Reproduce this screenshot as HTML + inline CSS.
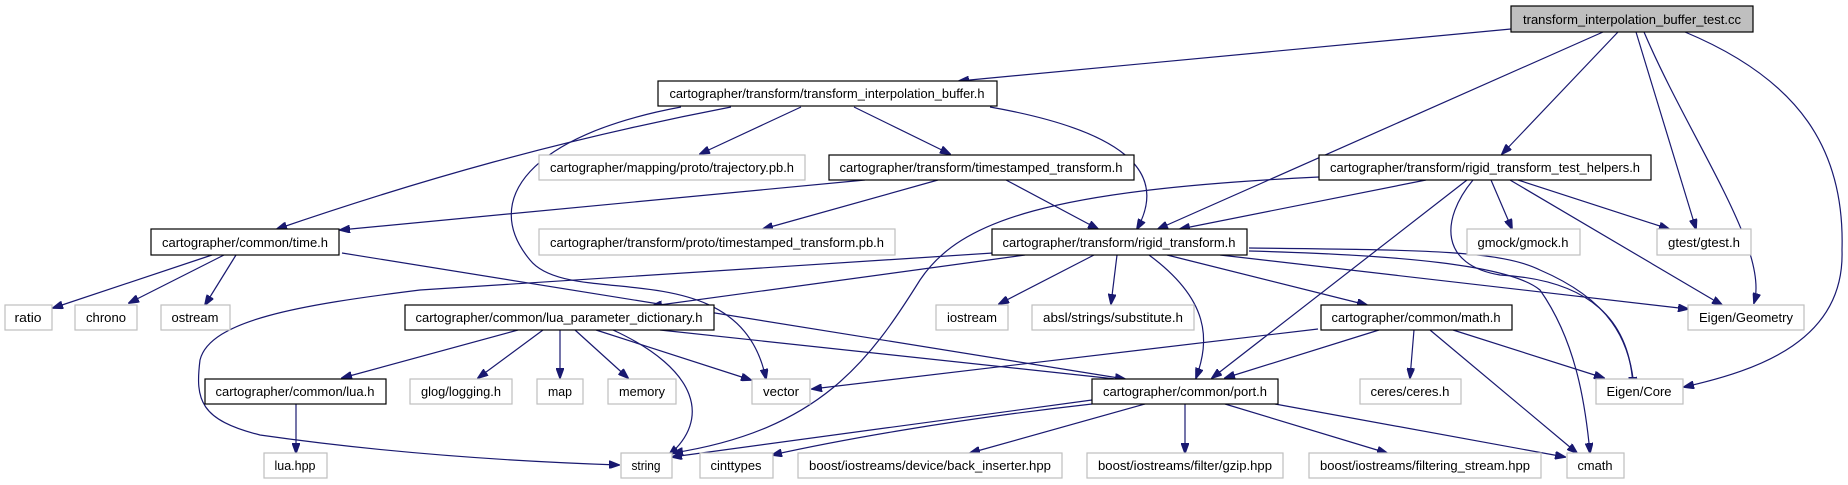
<!DOCTYPE html>
<html><head><meta charset="utf-8"><style>
html,body{margin:0;padding:0;background:#fff;}
svg{display:block;}
text{font-family:"Liberation Sans",Arial,sans-serif;font-size:13px;fill:#000;}
.e{fill:none;stroke:#191970;stroke-width:1.2;marker-end:url(#a);}
.n{fill:#fff;stroke:#000;stroke-width:1.2;}
.x{fill:#fff;stroke:#bfbfbf;stroke-width:1.2;}
</style></head><body>
<svg width="1848" height="485" viewBox="0 0 1848 485" xmlns="http://www.w3.org/2000/svg">
<defs><marker id="a" markerWidth="11" markerHeight="8" refX="10" refY="4" orient="auto" markerUnits="userSpaceOnUse"><path d="M0,0 L11,4 L0,8 z" fill="#191970" stroke="#191970"/></marker></defs>
<!-- edges -->
<path class="e" d="M1511,29 L959,81"/>
<path class="e" d="M1603,32 L1158,229"/>
<path class="e" d="M1618,32 L1502,154"/>
<path class="e" d="M1636,32 L1696,229"/>
<path class="e" d="M1644,32 C1690,140 1770,250 1754,303"/>
<path class="e" d="M1685,32 C1800,80 1845,150 1842,250 C1845,340 1760,370 1684,387"/>
<path class="e" d="M731,107 C560,140 420,180 277,229"/>
<path class="e" d="M681,107 C530,135 480,200 530,260 C570,310 740,250 766,379"/>
<path class="e" d="M801,107 L700,154"/>
<path class="e" d="M854,107 L950,154"/>
<path class="e" d="M990,107 C1120,130 1170,170 1137,229"/>
<path class="e" d="M865,180 L340,230"/>
<path class="e" d="M938,180 L763,229"/>
<path class="e" d="M1006,180 L1098,229"/>
<path class="e" d="M1319,177 C1050,190 960,220 920,280 C870,360 820,430 673,453"/>
<path class="e" d="M1426,180 L1180,229"/>
<path class="e" d="M1467,180 L1212,378"/>
<path class="e" d="M1473,180 C1440,220 1440,265 1500,275 C1590,280 1630,320 1633,387"/>
<path class="e" d="M1491,180 L1512,229"/>
<path class="e" d="M1518,180 L1669,229"/>
<path class="e" d="M1510,180 L1722,305"/>
<path class="e" d="M212,255 L53,308"/>
<path class="e" d="M224,255 L129,303"/>
<path class="e" d="M236,255 L205,305"/>
<path class="e" d="M342,253 L1125,379"/>
<path class="e" d="M1025,255 L652,306"/>
<path class="e" d="M993,253 L420,290 C300,305 210,320 200,360 C195,400 200,420 260,435 C400,455 530,462 619,465"/>
<path class="e" d="M1094,255 L999,304"/>
<path class="e" d="M1117,255 L1111,304"/>
<path class="e" d="M1149,255 C1210,300 1210,340 1196,378"/>
<path class="e" d="M1167,255 L1367,305"/>
<path class="e" d="M1220,255 L1688,309"/>
<path class="e" d="M1249,248 C1420,250 1500,250 1540,270 C1610,300 1630,340 1634,387"/>
<path class="e" d="M1249,251 C1400,255 1510,265 1540,290 C1575,340 1585,400 1590,453"/>
<path class="e" d="M518,330 L342,378"/>
<path class="e" d="M543,330 L478,378"/>
<path class="e" d="M560,330 L560,378"/>
<path class="e" d="M575,330 L628,378"/>
<path class="e" d="M596,330 L751,380"/>
<path class="e" d="M613,330 C700,370 710,420 669,455"/>
<path class="e" d="M660,330 L1125,380"/>
<path class="e" d="M296,404 L296,453"/>
<path class="e" d="M1318,329 L812,389"/>
<path class="e" d="M1379,330 L1225,378"/>
<path class="e" d="M1414,330 L1410,378"/>
<path class="e" d="M1453,330 L1604,378"/>
<path class="e" d="M1430,330 L1577,453"/>
<path class="e" d="M1092,400 L672,457"/>
<path class="e" d="M1092,404 C950,420 840,440 772,455"/>
<path class="e" d="M1145,404 L970,453"/>
<path class="e" d="M1185,404 L1185,453"/>
<path class="e" d="M1225,404 L1387,453"/>
<path class="e" d="M1275,404 L1565,457"/>
<!-- nodes -->
<rect x="1511" y="6" width="242" height="26" fill="#bfbfbf" stroke="#000" stroke-width="1.2"/>
<text x="1632" y="24" text-anchor="middle" textLength="218" lengthAdjust="spacingAndGlyphs">transform_interpolation_buffer_test.cc</text>
<g>
<rect class="n" x="658" y="81" width="339" height="25"/><text x="827" y="98" text-anchor="middle" textLength="315" lengthAdjust="spacingAndGlyphs">cartographer/transform/transform_interpolation_buffer.h</text>
<rect class="x" x="539" y="155" width="266" height="25"/><text x="672" y="172" text-anchor="middle" textLength="244" lengthAdjust="spacingAndGlyphs">cartographer/mapping/proto/trajectory.pb.h</text>
<rect class="n" x="829" y="155" width="305" height="25"/><text x="981" y="172" text-anchor="middle" textLength="283" lengthAdjust="spacingAndGlyphs">cartographer/transform/timestamped_transform.h</text>
<rect class="n" x="1319" y="155" width="332" height="25"/><text x="1485" y="172" text-anchor="middle" textLength="310" lengthAdjust="spacingAndGlyphs">cartographer/transform/rigid_transform_test_helpers.h</text>
<rect class="n" x="151" y="229" width="188" height="26"/><text x="245" y="247" text-anchor="middle" textLength="166" lengthAdjust="spacingAndGlyphs">cartographer/common/time.h</text>
<rect class="x" x="539" y="229" width="356" height="26"/><text x="717" y="247" text-anchor="middle" textLength="334" lengthAdjust="spacingAndGlyphs">cartographer/transform/proto/timestamped_transform.pb.h</text>
<rect class="n" x="992" y="229" width="255" height="26"/><text x="1119" y="247" text-anchor="middle" textLength="233" lengthAdjust="spacingAndGlyphs">cartographer/transform/rigid_transform.h</text>
<rect class="x" x="1467" y="229" width="113" height="26"/><text x="1523" y="247" text-anchor="middle" textLength="91" lengthAdjust="spacingAndGlyphs">gmock/gmock.h</text>
<rect class="x" x="1657" y="229" width="94" height="26"/><text x="1704" y="247" text-anchor="middle" textLength="72" lengthAdjust="spacingAndGlyphs">gtest/gtest.h</text>
<rect class="x" x="5" y="305" width="47" height="25"/><text x="28" y="322" text-anchor="middle" textLength="27" lengthAdjust="spacingAndGlyphs">ratio</text>
<rect class="x" x="75" y="305" width="62" height="25"/><text x="106" y="322" text-anchor="middle" textLength="40" lengthAdjust="spacingAndGlyphs">chrono</text>
<rect class="x" x="161" y="305" width="69" height="25"/><text x="195" y="322" text-anchor="middle" textLength="47" lengthAdjust="spacingAndGlyphs">ostream</text>
<rect class="n" x="405" y="305" width="309" height="25"/><text x="559" y="322" text-anchor="middle" textLength="287" lengthAdjust="spacingAndGlyphs">cartographer/common/lua_parameter_dictionary.h</text>
<rect class="x" x="936" y="305" width="72" height="25"/><text x="972" y="322" text-anchor="middle" textLength="50" lengthAdjust="spacingAndGlyphs">iostream</text>
<rect class="x" x="1032" y="305" width="162" height="25"/><text x="1113" y="322" text-anchor="middle" textLength="140" lengthAdjust="spacingAndGlyphs">absl/strings/substitute.h</text>
<rect class="n" x="1321" y="305" width="191" height="25"/><text x="1416" y="322" text-anchor="middle" textLength="169" lengthAdjust="spacingAndGlyphs">cartographer/common/math.h</text>
<rect class="x" x="1688" y="305" width="116" height="25"/><text x="1746" y="322" text-anchor="middle" textLength="94" lengthAdjust="spacingAndGlyphs">Eigen/Geometry</text>
<rect class="n" x="205" y="379" width="181" height="25"/><text x="295" y="396" text-anchor="middle" textLength="159" lengthAdjust="spacingAndGlyphs">cartographer/common/lua.h</text>
<rect class="x" x="410" y="379" width="102" height="25"/><text x="461" y="396" text-anchor="middle" textLength="80" lengthAdjust="spacingAndGlyphs">glog/logging.h</text>
<rect class="x" x="537" y="379" width="46" height="25"/><text x="560" y="396" text-anchor="middle" textLength="24" lengthAdjust="spacingAndGlyphs">map</text>
<rect class="x" x="608" y="379" width="68" height="25"/><text x="642" y="396" text-anchor="middle" textLength="46" lengthAdjust="spacingAndGlyphs">memory</text>
<rect class="x" x="752" y="379" width="58" height="25"/><text x="781" y="396" text-anchor="middle" textLength="36" lengthAdjust="spacingAndGlyphs">vector</text>
<rect class="n" x="1092" y="379" width="186" height="25"/><text x="1185" y="396" text-anchor="middle" textLength="164" lengthAdjust="spacingAndGlyphs">cartographer/common/port.h</text>
<rect class="x" x="1360" y="379" width="101" height="25"/><text x="1410" y="396" text-anchor="middle" textLength="79" lengthAdjust="spacingAndGlyphs">ceres/ceres.h</text>
<rect class="x" x="1596" y="379" width="87" height="25"/><text x="1639" y="396" text-anchor="middle" textLength="65" lengthAdjust="spacingAndGlyphs">Eigen/Core</text>
<rect class="x" x="264" y="453" width="63" height="25"/><text x="295" y="470" text-anchor="middle" textLength="41" lengthAdjust="spacingAndGlyphs">lua.hpp</text>
<rect class="x" x="621" y="453" width="51" height="25"/><text x="646" y="470" text-anchor="middle" textLength="29" lengthAdjust="spacingAndGlyphs">string</text>
<rect class="x" x="700" y="453" width="73" height="25"/><text x="736" y="470" text-anchor="middle" textLength="51" lengthAdjust="spacingAndGlyphs">cinttypes</text>
<rect class="x" x="798" y="453" width="264" height="25"/><text x="930" y="470" text-anchor="middle" textLength="242" lengthAdjust="spacingAndGlyphs">boost/iostreams/device/back_inserter.hpp</text>
<rect class="x" x="1087" y="453" width="196" height="25"/><text x="1185" y="470" text-anchor="middle" textLength="174" lengthAdjust="spacingAndGlyphs">boost/iostreams/filter/gzip.hpp</text>
<rect class="x" x="1309" y="453" width="232" height="25"/><text x="1425" y="470" text-anchor="middle" textLength="210" lengthAdjust="spacingAndGlyphs">boost/iostreams/filtering_stream.hpp</text>
<rect class="x" x="1567" y="453" width="57" height="25"/><text x="1595" y="470" text-anchor="middle" textLength="35" lengthAdjust="spacingAndGlyphs">cmath</text>
</g>
</svg>
</body></html>
